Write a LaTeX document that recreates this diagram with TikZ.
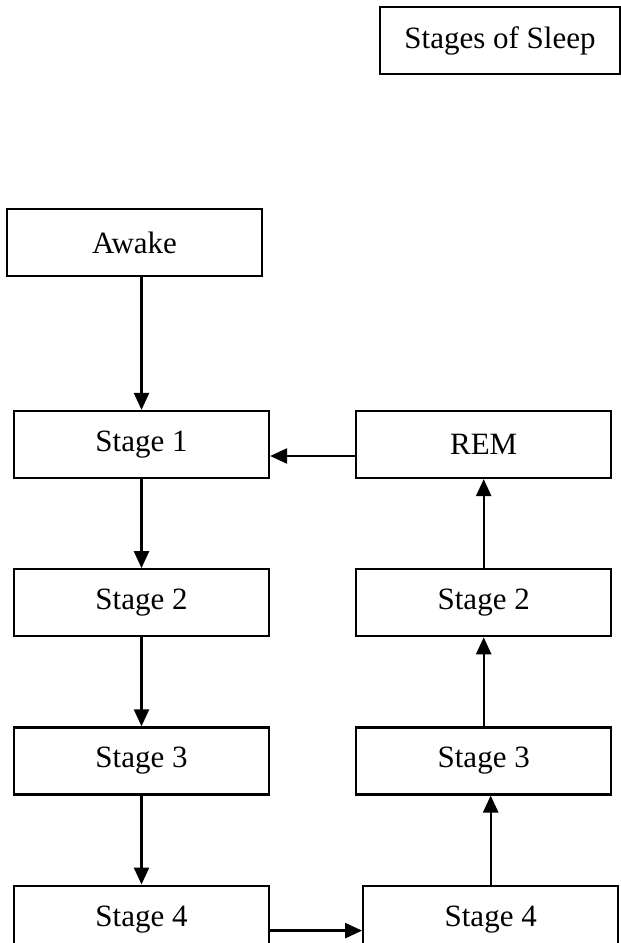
\documentclass[tikz,border=0pt]{standalone}
\usepackage{fontspec}
\setmainfont{Liberation Serif}
\usetikzlibrary{arrows.meta, positioning}

\begin{document}
\begin{tikzpicture}[
  x=1pt, y=1pt,
  font=\fontsize{31}{37}\selectfont,
  node distance=89pt and 85pt,
  box/.style={
    draw,
    line width=2.2pt,
    align=center,
    inner sep=0pt,
    minimum height=67pt,
    minimum width=255pt
  },
  arrow/.style={-{Triangle[length=17pt, width=15pt]}, line width=2.4pt}
]
\clip (0,0) rectangle (621,-943);

% ================= title =================
\node[box, minimum width=240pt] (title) at (500,-40.5) {Stages of Sleep};

% ================= falling asleep =================
\node[box] (awake) at (134.5,-242.5) {Awake};

\node[box] (stage1) at (141.5,-444.5) {Stage 1};
\node[box, below=of stage1] (stage2) {Stage 2};
\node[box, below=of stage2] (stage3) {Stage 3};
\node[box, below=of stage3] (stage4) {Stage 4};

% ================= back up to REM =================
\node[box, right=of stage1] (rem) {REM};
\node[box, right=of stage2] (stage2r) {Stage 2};
\node[box, right=of stage3] (stage3r) {Stage 3};
\node[box, right=92pt of stage4] (stage4r) {Stage 4};

\draw[arrow] (awake.south -| stage1.north) -- (stage1.north);
\draw[arrow] (stage1) -- (stage2);
\draw[arrow] (stage2) -- (stage3);
\draw[arrow] (stage3) -- (stage4);

\draw[arrow] ([yshift=-11.5pt]stage4.east) -- ([yshift=-11.5pt]stage4r.west);
\draw[arrow] (stage4r.north) -- (stage4r.north |- stage3r.south);
\draw[arrow] (stage3r) -- (stage2r);
\draw[arrow] (stage2r) -- (rem);
\draw[arrow] ([yshift=-11.5pt]rem.west) -- ([yshift=-11.5pt]stage1.east);

\end{tikzpicture}
\end{document}
